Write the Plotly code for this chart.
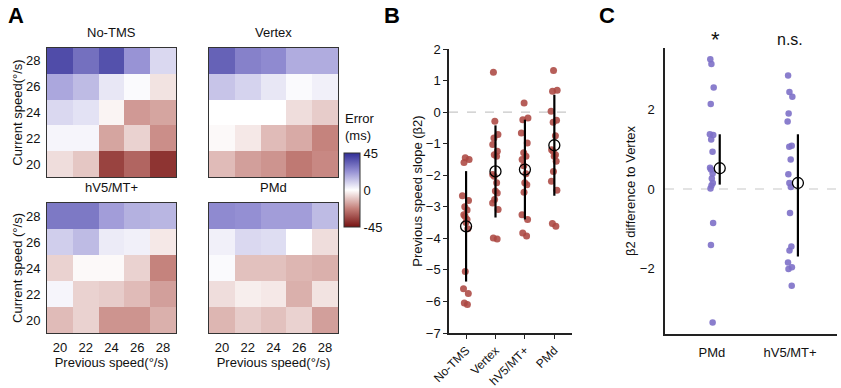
import plotly.graph_objects as go

# ---------------- data ----------------
speeds = [20, 22, 24, 26, 28]
rows_top_down = [28, 26, 24, 22, 20]

heat_titles = ["No-TMS", "Vertex", "hV5/MT+", "PMd"]
z_notms = [[38, 30, 37, 22, 8],
           [18, 14, 5, 1, -5],
           [8, 6, -2, -18, -16],
           [2, 2, -16, -8, -20],
           [-6, -10, -35, -28, -38]]
z_vertex = [[33, 26, 24, 17, 17],
            [12, 9, 5, 1, 3],
            [0, 0, 0, -6, -9],
            [-1, -4, -12, -15, -22],
            [-12, -17, -19, -24, -21]]
z_hv5 = [[28, 28, 20, 16, 15],
         [10, 14, 4, 3, -4],
         [-8, -1, -1, -8, -22],
         [2, -8, -9, -12, -17],
         [-12, -8, -19, -19, -14]]
z_pmd = [[24, 23, 20, 20, 14],
         [3, 8, 7, 0, -6],
         [1, -11, -11, -13, -14],
         [-6, -3, -4, -14, -5],
         [-13, -9, -11, -8, -17]]

b_categories = ["No-TMS", "Vertex", "hV5/MT+", "PMd"]
b_notms = [-1.45, -1.5, -1.6, -2.65, -2.8, -3.0, -3.1, -3.25, -3.3, -3.4, -3.5, -3.7,
           -5.05, -5.6, -5.75, -6.05, -6.1]
b_vertex = [1.26, -0.29, -0.71, -0.82, -1.03, -1.24, -1.35, -1.4, -1.98, -2.03, -2.24,
            -2.5, -2.56, -2.77, -2.88, -3.09, -3.99, -4.02]
b_hv5 = [0.29, -0.19, -0.24, -0.66, -0.98, -1.29, -1.4, -1.5, -1.7, -1.95, -2.24,
         -2.3, -2.54, -3.25, -3.4, -3.83, -3.93]
b_pmd = [1.32, 0.69, 0.66, 0.03, -0.26, -0.32, -0.75, -1.19, -1.24, -1.35, -1.4,
         -1.56, -1.88, -2.19, -2.48, -3.53, -3.62]
b_mean = [-3.62, -1.88, -1.82, -1.05]
b_sd = [1.75, 1.46, 1.58, 1.6]

c_categories = ["PMd", "hV5/MT+"]
c_pmd = [3.25, 3.13, 2.54, 2.13, 1.37, 1.35, 1.24, 0.93, 0.53, 0.49, 0.39, 0.26,
         0.15, 0.09, 0.01, -0.85, -1.40, -3.34]
c_hv5 = [2.84, 2.43, 2.31, 1.89, 1.69, 1.08, 1.06, 0.74, 0.37, 0.15, 0.05, -0.60,
         -1.44, -1.54, -1.84, -1.96, -2.0, -2.42]
c_mean = [0.52, 0.15]
c_upper = [1.37, 1.37]
c_lower = [0.11, -1.69]
c_sig = ["*", "n.s."]

# ---------------- styling ----------------
W, H = 841, 388
FONT = "Liberation Sans, Arial, Helvetica, sans-serif"
RED = "rgba(172,72,66,0.88)"
PURPLE = "rgba(125,112,200,0.9)"
cscale = [[0.0, "rgb(118,18,18)"], [0.25, "rgb(196,128,122)"], [0.5, "rgb(255,255,255)"],
          [0.75, "rgb(150,145,212)"], [1.0, "rgb(48,45,150)"]]


def px_x(a, b):
    return [a / W, b / W]


def px_y(top, bottom):
    return [1 - bottom / H, 1 - top / H]


fig = go.Figure()

heat_data = [z_notms, z_vertex, z_hv5, z_pmd]
heat_dom = [(px_x(47, 176), px_y(48, 177)), (px_x(209, 338), px_y(48, 177)),
            (px_x(47, 176), px_y(203, 333)), (px_x(209, 338), px_y(203, 333))]

for i, z in enumerate(heat_data):
    n = i + 1
    xa = "x" if n == 1 else f"x{n}"
    ya = "y" if n == 1 else f"y{n}"
    fig.add_trace(go.Heatmap(
        z=z, x=speeds, y=rows_top_down, xaxis=xa, yaxis=ya,
        colorscale=cscale, zmin=-45, zmax=45, showscale=(n == 1),
        colorbar=dict(x=344 / W, xanchor="left", y=1 - 190 / H, yanchor="middle",
                      len=74, lenmode="pixels", thickness=16, thicknessmode="pixels",
                      outlinewidth=1, outlinecolor="#333", tickvals=[45, 0, -45],
                      ticktext=["45", "0", "-45"], ticks="", xpad=0, ypad=0,
                      tickfont=dict(size=13, family=FONT, color="#111")),
        hoverinfo="skip"))
    xd, yd = heat_dom[i]
    bottom_row = n in (3, 4)
    left_col = n in (1, 3)
    fig.layout[f"xaxis{'' if n == 1 else n}"] = dict(
        domain=xd, anchor=ya, range=[19, 29], tickvals=speeds if bottom_row else [],
        showticklabels=bottom_row, ticks="", showline=True, mirror=True,
        linecolor="#333", linewidth=1, showgrid=False, zeroline=False,
        tickfont=dict(size=13), ticklabelstandoff=2, automargin=False,
        title=dict(text="Previous speed(°/s)" if bottom_row else "",
                   font=dict(size=13), standoff=2))
    fig.layout[f"yaxis{'' if n == 1 else n}"] = dict(
        domain=yd, anchor=xa, range=[19, 29], tickvals=speeds if left_col else [],
        showticklabels=left_col, ticks="", showline=True, mirror=True,
        linecolor="#333", linewidth=1, showgrid=False, zeroline=False,
        tickfont=dict(size=13), ticklabelstandoff=3, automargin=False,
        title=dict(text=("Current speed(°/s)" if n == 1 else "Current speed (°/s)") if left_col else "",
                   font=dict(size=13), standoff=0))
    # panel title
    fig.add_annotation(text=heat_titles[i], x=(xd[0] + xd[1]) / 2, y=yd[1],
                       xref="paper", yref="paper", xanchor="center", yanchor="bottom",
                       yshift=6, showarrow=False, font=dict(size=13))

# ---------------- panel B ----------------
b_sets = [b_notms, b_vertex, b_hv5, b_pmd]
for i, vals in enumerate(b_sets):
    fig.add_trace(go.Box(
        y=vals, x0=i, xaxis="x5", yaxis="y5", boxpoints="all", jitter=0.9,
        pointpos=0, width=0.3, fillcolor="rgba(0,0,0,0)",
        line=dict(width=0, color="rgba(0,0,0,0)"), whiskerwidth=0,
        marker=dict(color=RED, size=7, line=dict(width=0)),
        hoverinfo="skip", showlegend=False))
fig.add_trace(go.Scatter(
    x=list(range(len(b_categories))), y=b_mean, xaxis="x5", yaxis="y5", mode="markers",
    marker=dict(symbol="circle-open", size=11, color="black", line=dict(width=1.3)),
    error_y=dict(type="data", array=b_sd, symmetric=True, width=0, thickness=2.2,
                 color="black"),
    showlegend=False, hoverinfo="skip"))

fig.layout["xaxis5"] = dict(
    domain=px_x(449, 572), anchor="y5", range=[-0.58, 3.6],
    tickvals=list(range(len(b_categories))), ticktext=b_categories, tickangle=-45,
    ticks="outside", ticklen=4, tickcolor="#222", showline=True, linecolor="#222",
    linewidth=1.5, showgrid=False, zeroline=False, tickfont=dict(size=12),
    automargin=False)
fig.layout["yaxis5"] = dict(
    domain=px_y(49, 333), anchor="x5", range=[-7, 2], tickvals=list(range(-7, 3)),
    ticktext=[("−" + str(-v)) if v < 0 else str(v) for v in range(-7, 3)],
    ticks="outside", ticklen=4, tickcolor="#222", showline=True, linecolor="#222",
    linewidth=1.5, showgrid=False, zeroline=False, tickfont=dict(size=13),
    automargin=False,
    title=dict(text="Previous speed slope (β2)", font=dict(size=13), standoff=0))
fig.add_shape(type="line", xref="x5 domain", yref="y5", x0=0, x1=1, y0=0, y1=0,
              line=dict(color="#c8c8c8", width=1.2, dash="dash"), layer="below")

# ---------------- panel C ----------------
c_sets = [c_pmd, c_hv5]
for i, vals in enumerate(c_sets):
    fig.add_trace(go.Box(
        y=vals, x0=i, xaxis="x6", yaxis="y6", boxpoints="all", jitter=0.8,
        pointpos=0, width=0.1, fillcolor="rgba(0,0,0,0)",
        line=dict(width=0, color="rgba(0,0,0,0)"), whiskerwidth=0,
        marker=dict(color=PURPLE, size=6.5, line=dict(width=0)),
        hoverinfo="skip", showlegend=False))
c_x = [i + 0.1 for i in range(len(c_categories))]
fig.add_trace(go.Scatter(
    x=c_x, y=c_mean, xaxis="x6", yaxis="y6", mode="markers",
    marker=dict(symbol="circle-open", size=11, color="black", line=dict(width=1.3)),
    error_y=dict(type="data", symmetric=False,
                 array=[u - m for u, m in zip(c_upper, c_mean)],
                 arrayminus=[m - l for m, l in zip(c_mean, c_lower)],
                 width=0, thickness=2.2, color="black"),
    showlegend=False, hoverinfo="skip"))
fig.layout["xaxis6"] = dict(
    domain=px_x(665, 837), anchor="y6", range=[-0.6, 1.6],
    tickvals=list(range(len(c_categories))), ticktext=c_categories,
    ticks="", showline=True, linecolor="#222", linewidth=1.5, showgrid=False,
    zeroline=False, tickfont=dict(size=13), ticklabelstandoff=6, automargin=False)
fig.layout["yaxis6"] = dict(
    domain=px_y(48, 334), anchor="x6", range=[-3.63, 3.53], tickvals=[-2, 0, 2],
    ticktext=["−2", "0", "2"], ticks="", showline=True, linecolor="#222",
    linewidth=1.5, showgrid=False, zeroline=False, tickfont=dict(size=13),
    ticklabelstandoff=6, automargin=False,
    title=dict(text="β2 difference to Vertex", font=dict(size=13), standoff=1))
fig.add_shape(type="line", xref="x6 domain", yref="y6", x0=0, x1=1, y0=0, y1=0,
              line=dict(color="#c8c8c8", width=1.2, dash="dash"), layer="below")
for i, s in enumerate(c_sig):
    fig.add_annotation(text=s, x=i + 0.05 * (i == 0), y=1 - 40 / H, xref="x6", yref="paper",
                       showarrow=False, xanchor="center", yanchor="middle",
                       font=dict(size=22 if s == "*" else 16, color="#111"))

# ---------------- labels ----------------
for lab, xp in [("A", 16), ("B", 392), ("C", 607)]:
    fig.add_annotation(text=f"<b>{lab}</b>", x=xp / W, y=1 - 16 / H, xref="paper",
                       yref="paper", xanchor="center", yanchor="middle",
                       showarrow=False, font=dict(size=22, color="black"))
fig.add_annotation(text="Error<br>(ms)", x=343 / W, y=1 - 127 / H, xref="paper",
                   yref="paper", xanchor="left", yanchor="middle", align="left",
                   showarrow=False, font=dict(size=13))

fig.update_layout(
    width=W, height=H, margin=dict(l=0, r=0, t=0, b=0, autoexpand=False),
    paper_bgcolor="white", plot_bgcolor="white",
    font=dict(family=FONT, size=13, color="#111"), showlegend=False)

fig.write_html("out.html", config={"displayModeBar": False},
               post_script="document.body.style.margin='0';")
